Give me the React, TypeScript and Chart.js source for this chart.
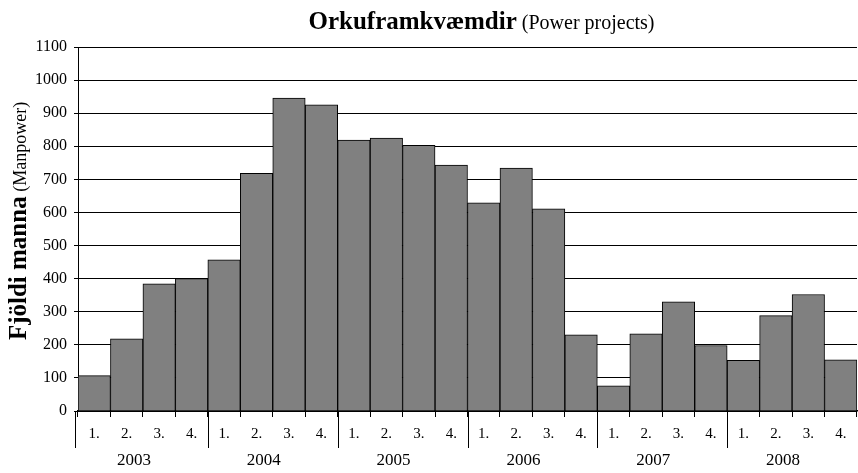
import React, { useEffect, useRef } from "react";
import { Chart, registerables } from "chart.js";

Chart.register(...registerables);

const quarters = ["1.", "2.", "3.", "4.", "1.", "2.", "3.", "4.", "1.", "2.", "3.", "4.", "1.", "2.", "3.", "4.", "1.", "2.", "3.", "4.", "1.", "2.", "3.", "4."];
const years = ["2003", "2004", "2005", "2006", "2007", "2008"];
const manpower = [107, 218, 384, 400, 457, 718, 946, 925, 819, 825, 803, 743, 629, 734, 611, 230, 76, 233, 330, 198, 153, 288, 352, 155];
const yTicks = [0, 100, 200, 300, 400, 500, 600, 700, 800, 900, 1000, 1100];

const titleBold = "Orkuframkvæmdir";
const titleNormal = "(Power projects)";
const yTitleBold = "Fjöldi manna";
const yTitleNormal = "(Manpower)";

const SERIF = "'Liberation Serif', 'Times New Roman', serif";

const decorPlugin = {
  id: "decor",
  afterDraw(chart: any) {
    const ctx = chart.ctx;
    const x = chart.scales.x;
    const area = chart.chartArea;
    ctx.save();
    // Year separators and labels
    ctx.strokeStyle = "#000";
    ctx.lineWidth = 1;
    for (let i = 0; i < years.length; i++) {
      let px = x.getPixelForValue(i * 4 - 0.5);
      if (i === 0) px -= 3;
      px = Math.round(px) + 0.5;
      ctx.beginPath();
      ctx.moveTo(px, area.bottom);
      ctx.lineTo(px, area.bottom + 37);
      ctx.stroke();
    }
    ctx.fillStyle = "#000";
    ctx.font = `17px ${SERIF}`;
    ctx.textAlign = "center";
    ctx.textBaseline = "middle";
    years.forEach((yr, i) => {
      const cx = x.getPixelForValue(i * 4 + 1.5) - 9;
      ctx.fillText(yr, cx, area.bottom + 50);
    });
    // Main title
    ctx.textAlign = "left";
    ctx.textBaseline = "alphabetic";
    ctx.font = `bold 25px ${SERIF}`;
    const w1 = ctx.measureText(titleBold).width;
    ctx.font = `20px ${SERIF}`;
    const w2 = ctx.measureText(" " + titleNormal).width;
    const cx = (area.left + area.right) / 2 + 14;
    const sx = cx - (w1 + w2) / 2;
    ctx.font = `bold 25px ${SERIF}`;
    ctx.fillText(titleBold, sx, 29);
    ctx.font = `20px ${SERIF}`;
    ctx.fillText(" " + titleNormal, sx + w1, 29);
    // Y title
    ctx.translate(26, (area.top + area.bottom) / 2 - 8);
    ctx.rotate(-Math.PI / 2);
    ctx.font = `bold 25px ${SERIF}`;
    const v1 = ctx.measureText(yTitleBold).width;
    ctx.font = `18px ${SERIF}`;
    const v2 = ctx.measureText(" " + yTitleNormal).width;
    const s = -(v1 + v2) / 2;
    ctx.font = `bold 25px ${SERIF}`;
    ctx.fillText(yTitleBold, s, 0);
    ctx.font = `18px ${SERIF}`;
    ctx.fillText(" " + yTitleNormal, s + v1, 0);
    ctx.restore();
  },
};

export default function App() {
  const ref = useRef<HTMLCanvasElement>(null);
  useEffect(() => {
    if (!ref.current) return;
    const chart = new Chart(ref.current, {
      type: "bar",
      data: {
        labels: quarters,
        datasets: [
          {
            data: manpower,
            backgroundColor: "#808080",
            borderColor: "#000",
            borderWidth: 1,
            barPercentage: 1,
            categoryPercentage: 1,
          },
        ],
      },
      options: {
        animation: false,
        responsive: false,
        maintainAspectRatio: false,
        layout: { padding: { top: 47, right: 1, left: 0, bottom: 0 } },
        plugins: { legend: { display: false }, tooltip: { enabled: false }, title: { display: false } },
        scales: {
          x: {
            offset: true,
            grid: { display: true, offset: true, drawOnChartArea: false, color: "#000", tickLength: 6, lineWidth: 1 },
            border: { display: true, color: "#000", width: 1.5 },
            ticks: { color: "#000", font: { family: SERIF, size: 15 }, padding: 8, maxRotation: 0, autoSkip: false },
            afterFit: (s: any) => { s.height = 62; },
          },
          y: {
            min: 0,
            max: 1100,
            afterBuildTicks: (s: any) => { s.ticks = yTicks.map((v) => ({ value: v })); },
            grid: { color: "#000", tickLength: 4, lineWidth: 1 },
            border: { display: true, color: "#000", width: 1 },
            ticks: { color: "#000", font: { family: SERIF, size: 16 }, padding: 7, callback: (v: any) => String(v) },
            afterFit: (s: any) => { s.width = 78; },
          },
        },
      },
      plugins: [decorPlugin],
    });
    return () => chart.destroy();
  }, []);
  return (
    <div style={{ position: "fixed", left: 0, top: 0, width: 858, height: 473, background: "#fff" }}>
      <canvas ref={ref} width={858} height={473} style={{ display: "block" }} />
    </div>
  );
}
